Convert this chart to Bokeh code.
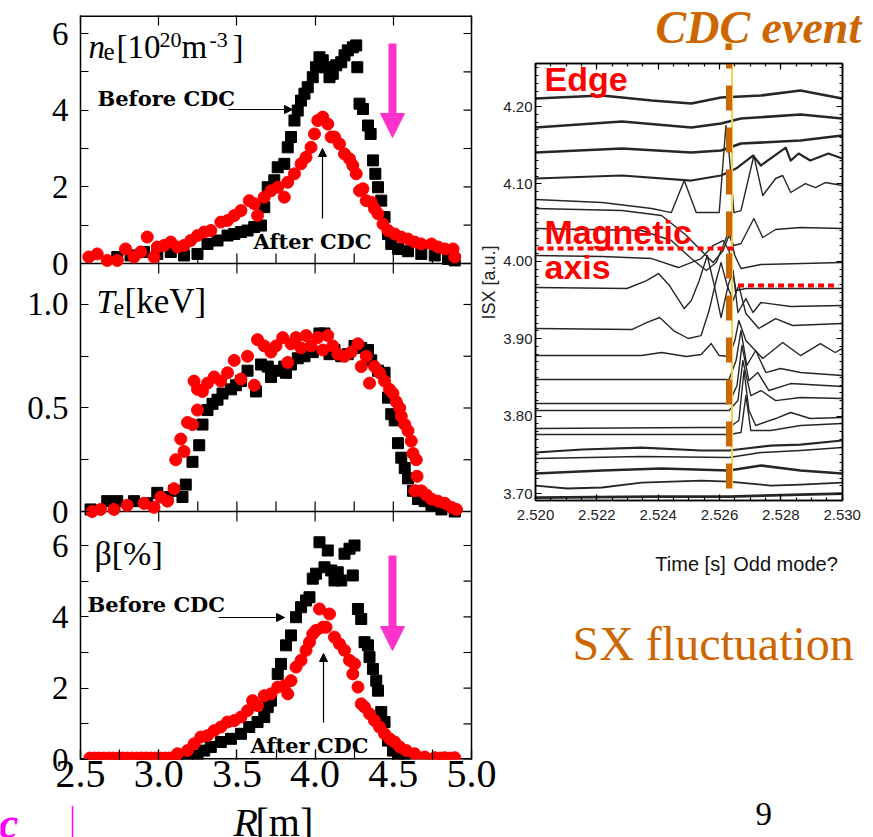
import numpy as np
from bokeh.plotting import figure
from bokeh.layouts import row, column
from bokeh.models import (Range1d, LinearAxis, FixedTicker, SingleIntervalTicker,
                          CustomJSTickFormatter, NumeralTickFormatter, Label, Arrow, NormalHead)
from bokeh.embed import file_html
from bokeh.resources import INLINE

# ------------------------------------------------------------------ data: left panels
R_TICKS = [2.5, 3.0, 3.5, 4.0, 4.5, 5.0]
R_MINOR = [2.75, 3.25, 3.75, 4.25, 4.75]
NE_TICKS = [0, 2, 4, 6]
NE_MINOR = [1, 3, 5]
TE_TICKS = [0.0, 0.5, 1.0]
TE_TICK_LABELS = ["0", "0.5", "1.0"]
TE_MINOR = [0.25, 0.75]
BETA_TICKS = [0, 2, 4, 6]
BETA_MINOR = [1, 3, 5]

NE_BEFORE_R = [2.735, 2.82, 2.906, 2.991, 3.077, 3.162, 3.248, 3.312, 3.376, 3.44, 3.483, 3.526, 3.568,
               3.611, 3.654, 3.675, 3.697, 3.739, 3.761, 3.803, 3.825, 3.846, 3.868, 3.889, 3.91, 3.932,
               3.953, 3.985, 4.006, 4.028, 4.049, 4.07, 4.092, 4.113, 4.135, 4.167, 4.188, 4.209, 4.241,
               4.263, 4.27, 4.284, 4.306, 4.338, 4.355, 4.37, 4.385, 4.402, 4.423, 4.444, 4.466, 4.487,
               4.53, 4.594, 4.679, 4.765, 4.85, 4.893]
NE_BEFORE = [0.17, 0.21, 0.30, 0.25, 0.30, 0.21, 0.25, 0.51, 0.60, 0.73, 0.77, 0.82, 0.86, 0.95, 0.99,
             1.47, 1.99, 2.17, 2.51, 2.60, 3.03, 3.30, 3.73, 3.99, 4.25, 4.43, 4.60, 4.86, 5.12, 5.38,
             5.30, 5.12, 4.86, 4.95, 5.17, 5.25, 5.43, 5.56, 5.64, 5.69, 5.12, 4.17, 4.03, 3.60, 3.38,
             2.69, 2.34, 1.99, 1.64, 1.21, 0.77, 0.51, 0.38, 0.32, 0.25, 0.21, 0.12, 0.08]
NE_AFTER_R = [2.553, 2.607, 2.671, 2.735, 2.788, 2.842, 2.885, 2.927, 2.970, 2.991, 3.034, 3.077, 3.12,
              3.162, 3.205, 3.248, 3.291, 3.333, 3.397, 3.44, 3.483, 3.526, 3.579, 3.611, 3.632, 3.675,
              3.718, 3.761, 3.803, 3.825, 3.868, 3.91, 3.942, 3.974, 3.996, 4.017, 4.049, 4.081, 4.103,
              4.124, 4.156, 4.188, 4.22, 4.241, 4.263, 4.284, 4.306, 4.327, 4.359, 4.38, 4.402, 4.434,
              4.466, 4.509, 4.551, 4.594, 4.637, 4.679, 4.744, 4.786, 4.829, 4.882, 4.893]
NE_AFTER = [0.17, 0.25, 0.08, 0.08, 0.38, 0.17, 0.30, 0.69, 0.17, 0.43, 0.47, 0.56, 0.43, 0.47, 0.60,
            0.73, 0.82, 0.86, 1.08, 1.12, 1.25, 1.38, 1.64, 1.56, 1.25, 1.73, 1.90, 1.99, 1.73, 2.12,
            2.34, 2.60, 2.77, 3.03, 3.38, 3.73, 3.82, 3.64, 3.30, 3.30, 3.12, 2.86, 2.73, 2.56, 2.34,
            1.90, 1.95, 1.64, 1.60, 1.43, 1.30, 1.03, 0.86, 0.77, 0.69, 0.64, 0.56, 0.51, 0.51, 0.43,
            0.38, 0.38, 0.17]

TE_BEFORE_R = [2.564, 2.671, 2.735, 2.842, 2.927, 2.991, 3.056, 3.098, 3.152, 3.173, 3.216, 3.259, 3.28,
               3.312, 3.344, 3.376, 3.408, 3.462, 3.494, 3.526, 3.568, 3.622, 3.654, 3.697, 3.718, 3.75,
               3.803, 3.814, 3.846, 3.889, 3.932, 3.985, 4.028, 4.06, 4.092, 4.124, 4.167, 4.209, 4.252,
               4.295, 4.338, 4.359, 4.402, 4.444, 4.466, 4.487, 4.509, 4.53, 4.551, 4.573, 4.594, 4.626,
               4.658, 4.701, 4.744, 4.808, 4.893]
TE_BEFORE = [0.01, 0.05, 0.05, 0.05, 0.04, 0.09, 0.07, 0.10, 0.07, 0.13, 0.24, 0.32, 0.42, 0.49, 0.52,
             0.54, 0.57, 0.59, 0.61, 0.63, 0.68, 0.58, 0.71, 0.70, 0.65, 0.68, 0.70, 0.67, 0.71, 0.74,
             0.75, 0.77, 0.86, 0.86, 0.76, 0.78, 0.75, 0.76, 0.80, 0.79, 0.78, 0.73, 0.68, 0.67, 0.55,
             0.47, 0.44, 0.33, 0.26, 0.21, 0.16, 0.10, 0.06, 0.05, 0.03, 0.01, 0.00]
TE_AFTER_R = [2.575, 2.628, 2.714, 2.799, 2.906, 2.970, 3.013, 3.056, 3.098, 3.109, 3.141, 3.162, 3.184,
              3.216, 3.248, 3.226, 3.248, 3.28, 3.312, 3.355, 3.397, 3.44, 3.483, 3.526, 3.568, 3.611,
              3.632, 3.675, 3.718, 3.75, 3.793, 3.825, 3.846, 3.878, 3.91, 3.942, 3.974, 4.017, 4.049,
              4.081, 4.113, 4.145, 4.188, 4.231, 4.274, 4.295, 4.327, 4.348, 4.38, 4.412, 4.444, 4.476,
              4.498, 4.519, 4.541, 4.551, 4.573, 4.594, 4.615, 4.626, 4.647, 4.652, 4.637, 4.679, 4.712,
              4.744, 4.786, 4.829, 4.872, 4.904]
TE_AFTER = [0.00, 0.01, 0.01, 0.03, 0.04, 0.02, 0.07, 0.05, 0.11, 0.25, 0.35, 0.29, 0.43, 0.42, 0.49,
            0.63, 0.59, 0.58, 0.62, 0.65, 0.63, 0.67, 0.73, 0.64, 0.75, 0.61, 0.83, 0.80, 0.77, 0.80,
            0.84, 0.72, 0.81, 0.84, 0.79, 0.85, 0.80, 0.84, 0.78, 0.85, 0.80, 0.76, 0.75, 0.77, 0.81,
            0.70, 0.75, 0.62, 0.70, 0.67, 0.63, 0.59, 0.57, 0.53, 0.50, 0.46, 0.42, 0.39, 0.34, 0.28,
            0.25, 0.17, 0.10, 0.10, 0.08, 0.06, 0.05, 0.04, 0.02, 0.01]

BETA_BEFORE_R = [2.60, 2.75, 2.90, 3.05, 3.12, 3.184, 3.248, 3.291, 3.333, 3.397, 3.462, 3.526, 3.579,
                 3.632, 3.675, 3.697, 3.718, 3.761, 3.782, 3.814, 3.846, 3.878, 3.91, 3.942, 3.964,
                 3.985, 4.006, 4.028, 4.06, 4.081, 4.103, 4.124, 4.145, 4.167, 4.188, 4.22, 4.252,
                 4.241, 4.274, 4.295, 4.316, 4.338, 4.348, 4.37, 4.391, 4.402, 4.423, 4.444, 4.466,
                 4.498, 4.53, 4.573]
BETA_BEFORE = [0.02, 0.02, 0.02, 0.03, 0.04, 0.05, 0.11, 0.25, 0.35, 0.49, 0.58, 0.72, 0.91, 1.05, 1.19,
               1.47, 1.65, 2.40, 2.68, 3.20, 3.48, 3.99, 4.27, 4.46, 4.55, 5.07, 5.21, 6.09, 5.39, 5.86,
               5.30, 5.02, 5.25, 5.02, 5.77, 5.91, 6.00, 5.16, 4.22, 3.94, 3.29, 3.20, 2.87, 2.54, 2.21,
               1.93, 1.33, 1.05, 0.53, 0.25, 0.11, 0.05]
BETA_AFTER_R = [2.56, 2.59, 2.62, 2.65, 2.68, 2.71, 2.74, 2.77, 2.80, 2.83, 2.86, 2.89, 2.92, 2.95, 2.98,
                3.01, 3.04, 3.07, 3.10, 3.12, 3.184, 3.226, 3.269, 3.312, 3.355, 3.397, 3.44, 3.483,
                3.526, 3.568, 3.60, 3.632, 3.675, 3.718, 3.761, 3.803, 3.825, 3.846, 3.878, 3.91, 3.942,
                3.964, 3.985, 4.006, 4.028, 4.049, 4.07, 4.092, 4.124, 4.156, 4.188, 4.22, 4.252, 4.241,
                4.274, 4.295, 4.316, 4.348, 4.38, 4.412, 4.444, 4.476, 4.509, 4.541, 4.583, 4.637,
                4.701, 4.765, 4.80, 4.829, 4.86, 4.893]
BETA_AFTER = [0.04, 0.04, 0.04, 0.04, 0.04, 0.04, 0.04, 0.04, 0.04, 0.04, 0.04, 0.04, 0.04, 0.04, 0.04,
              0.04, 0.04, 0.04, 0.04, 0.16, 0.25, 0.44, 0.63, 0.67, 0.81, 0.91, 1.05, 1.09, 1.19, 1.37,
              1.65, 1.51, 1.79, 1.84, 2.03, 2.07, 1.84, 2.21, 2.59, 2.78, 3.06, 3.29, 3.52, 3.62, 4.22,
              3.71, 3.71, 4.08, 3.43, 3.24, 3.06, 2.78, 2.68, 2.40, 2.03, 1.56, 1.47, 1.28, 1.09, 0.91,
              0.72, 0.58, 0.49, 0.35, 0.25, 0.16, 0.07, 0.05, 0.04, 0.05, 0.04, 0.05]

# ------------------------------------------------------------------ data: SX signals (right)
SX01_T = [2.52000, 2.52217, 2.52379, 2.52508, 2.52605, 2.52735, 2.52864, 2.53000]
SX01_V = [4.2103, 4.2142, 4.2078, 4.2039, 4.2116, 4.2142, 4.2207, 4.2103]
SX02_T = [2.52000, 2.52282, 2.52508, 2.52605, 2.52670, 2.52864, 2.53000]
SX02_V = [4.1729, 4.1806, 4.1729, 4.1780, 4.1845, 4.1897, 4.1845]
SX03_T = [2.52000, 2.52282, 2.52508, 2.52605, 2.52670, 2.52864, 2.53000]
SX03_V = [4.1406, 4.1457, 4.1406, 4.1432, 4.1522, 4.1561, 4.1625]
SX04_T = [2.52000, 2.52282, 2.52508, 2.52605, 2.52654, 2.52709, 2.52735, 2.52816, 2.52832, 2.52858,
          2.52896, 2.52955, 2.53000]
SX04_V = [4.1070, 4.1109, 4.1044, 4.1109, 4.1199, 4.1367, 4.1238, 4.1470, 4.1302, 4.1393, 4.1302,
          4.1393, 4.1328]
SX05_T = [2.52000, 2.52217, 2.52379, 2.52443, 2.52485, 2.52524, 2.52599, 2.52612, 2.52621, 2.52631,
          2.52647, 2.52670, 2.52712, 2.52741, 2.52783, 2.52806, 2.52832, 2.52880, 2.52913, 2.52945, 2.53000]
SX05_V = [4.0798, 4.0760, 4.0682, 4.0630, 4.1044, 4.0630, 4.0630, 4.1302, 4.1755, 4.1406, 4.0630,
          4.0656, 4.1367, 4.0850, 4.1070, 4.1109, 4.0889, 4.1005, 4.0953, 4.1018, 4.0979]
SX06_T = [2.52000, 2.52282, 2.52411, 2.52492, 2.52540, 2.52579, 2.52612, 2.52631, 2.52647, 2.52670,
          2.52712, 2.52741, 2.52783, 2.52864, 2.53000]
SX06_V = [4.0682, 4.0656, 4.0592, 4.0333, 4.0140, 3.9984, 4.0140, 4.0333, 4.0204, 4.0230, 4.0553,
          4.0308, 4.0411, 4.0437, 4.0424]
SX07_T = [2.52000, 2.52346, 2.52443, 2.52508, 2.52557, 2.52589, 2.52612, 2.52631, 2.52650, 2.52670,
          2.52735, 2.53000]
SX07_V = [4.0424, 4.0398, 4.0269, 4.0036, 3.9881, 3.9984, 4.0204, 4.0398, 4.0075, 3.9907, 3.9959, 3.9984]
SX08_T = [2.52000, 2.52217, 2.52379, 2.52466, 2.52540, 2.52579, 2.52612, 2.52631, 2.52654, 2.52686, 2.53000]
SX08_V = [4.0075, 4.0062, 4.0036, 3.9920, 4.0036, 4.0204, 4.0269, 4.0140, 3.9623, 3.9649, 3.9649]
SX09_T = [2.52000, 2.52298, 2.52362, 2.52401, 2.52437, 2.52485, 2.52508, 2.52534, 2.52560, 2.52583,
          2.52605, 2.52628, 2.52644, 2.52660, 2.52686, 2.52709, 2.52735, 2.52832, 2.53000]
SX09_V = [3.9661, 3.9649, 3.9752, 3.9842, 3.9687, 3.9390, 3.9494, 3.9752, 4.0075, 3.9687, 3.9274,
          3.9687, 3.9881, 3.9339, 3.9519, 3.9339, 3.9468, 3.9416, 3.9429]
SX10_T = [2.52000, 2.52314, 2.52362, 2.52405, 2.52450, 2.52498, 2.52540, 2.52566, 2.52589, 2.52605,
          2.52625, 2.52644, 2.52663, 2.52686, 2.52728, 2.52783, 2.52838, 2.53000]
SX10_V = [3.9132, 3.9119, 3.9209, 3.9274, 3.9106, 3.9003, 3.9041, 3.9364, 3.9752, 3.9984, 3.9687,
          3.9494, 3.9687, 3.9326, 3.9132, 3.9261, 3.9171, 3.9196]
SX11_T = [2.52000, 2.52346, 2.52411, 2.52492, 2.52540, 2.52573, 2.52599, 2.52631, 2.52650, 2.52663,
          2.52686, 2.52741, 2.52806, 2.52864, 2.52929, 2.52977, 2.53000]
SX11_V = [3.8783, 3.8783, 3.8822, 3.8770, 3.8796, 3.8938, 3.8783, 3.8770, 3.8977, 3.9235, 3.8977,
          3.8744, 3.8951, 3.8783, 3.8938, 3.8822, 3.8873]
SX12_T = [2.52000, 2.52631, 2.52654, 2.52670, 2.52689, 2.52718, 2.52751, 2.52799, 2.52864, 2.53000]
SX12_V = [3.8473, 3.8473, 3.8718, 3.9106, 3.8654, 3.8848, 3.8563, 3.8615, 3.8563, 3.8525]
SX13_T = [2.52000, 2.52631, 2.52657, 2.52673, 2.52696, 2.52725, 2.52761, 2.52832, 2.53000]
SX13_V = [3.8163, 3.8163, 3.8395, 3.8912, 3.8460, 3.8563, 3.8331, 3.8421, 3.8382]
SX14_T = [2.52000, 2.52631, 2.52660, 2.52676, 2.52702, 2.52735, 2.52783, 2.52864, 2.53000]
SX14_V = [3.8072, 3.8072, 3.8201, 3.8718, 3.8266, 3.8331, 3.8201, 3.8240, 3.8227]
SX15_T = [2.52000, 2.52540, 2.52631, 2.52663, 2.52680, 2.52696, 2.52718, 2.52783, 2.52832, 2.52896, 2.53000]
SX15_V = [3.7840, 3.7853, 3.7853, 3.7943, 3.8589, 3.8072, 3.7879, 3.7969, 3.8047, 3.7969, 3.7982]
SX16_T = [2.52000, 2.52631, 2.52670, 2.52686, 2.52702, 2.52767, 2.52864, 2.53000]
SX16_V = [3.7762, 3.7762, 3.7788, 3.8266, 3.7814, 3.7814, 3.7879, 3.7904]
SX17_T = [2.52000, 2.52152, 2.52346, 2.52540, 2.52631, 2.52686, 2.52767, 2.52864, 2.53000]
SX17_V = [3.7530, 3.7569, 3.7594, 3.7556, 3.7556, 3.7582, 3.7620, 3.7633, 3.7685]
SX18_T = [2.52000, 2.52346, 2.52631, 2.52735, 2.52864, 2.53000]
SX18_V = [3.7452, 3.7478, 3.7465, 3.7530, 3.7556, 3.7594]
SX19_T = [2.52000, 2.52217, 2.52411, 2.52631, 2.52735, 2.52864, 2.53000]
SX19_V = [3.7258, 3.7297, 3.7323, 3.7297, 3.7362, 3.7297, 3.7258]
SX20_T = [2.52000, 2.52104, 2.52217, 2.52346, 2.52540, 2.52631, 2.52767, 2.52864, 2.53000]
SX20_V = [3.7103, 3.7065, 3.7078, 3.7142, 3.7168, 3.7155, 3.7103, 3.7116, 3.7142]
SX21_T = [2.52000, 2.52379, 2.52631, 2.52864, 2.53000]
SX21_V = [3.6948, 3.6960, 3.6960, 3.6986, 3.7000]

CDC_T = 2.52631
MAG_AXIS_BEFORE = 4.0165
MAG_AXIS_AFTER = 3.9687

# ------------------------------------------------------------------ styling helpers
FONT_SERIF = "Liberation Serif"
FONT_SANS = "Liberation Sans"
FONT_BOLD_SERIF = "DejaVu Serif"
PINK = "#FF33CC"
ORANGE = "#CC6600"
MAGENTA = "#FF00FF"
MID = 0.34  # distance from a text's vertical middle to its baseline, in font sizes

NE_RANGE = (-12.94, 6.47)
TE_RANGE = (-1.198, 2.396)
BETA_RANGE = (0.0, 20.86)

BLANK = CustomJSTickFormatter(code="return '';")


def to_main(v, rng):
    return NE_RANGE[0] + (v - rng[0]) / (rng[1] - rng[0]) * (NE_RANGE[1] - NE_RANGE[0])


# left figure geometry (frame extends to the canvas' right edge; the drawn box ends at R=5.0)
L_W, L_H = 500, 805
L_LEFT, L_TOP, L_BOTTOM = 80, 15, 46
BOX_RIGHT_PX = 471
PX_PER_R = (BOX_RIGHT_PX - L_LEFT) / (R_TICKS[-1] - R_TICKS[0])
X_END = R_TICKS[0] + (L_W - L_LEFT) / PX_PER_R
L_FH = L_H - L_TOP - L_BOTTOM


def lx(px):
    return R_TICKS[0] + (px - L_LEFT) / PX_PER_R


def ly(py):
    return NE_RANGE[1] - (py - L_TOP) / L_FH * (NE_RANGE[1] - NE_RANGE[0])


def tick_style(**kw):
    d = dict(major_tick_out=0, minor_tick_out=0, axis_line_width=1.5, axis_line_color="black",
             major_tick_line_width=1.2, minor_tick_line_width=1.2,
             major_tick_line_color="black", minor_tick_line_color="black")
    d.update(kw)
    return d


# ------------------------------------------------------------------ left figure
left = figure(width=L_W, height=L_H, x_range=Range1d(R_TICKS[0], X_END),
              y_range=Range1d(*NE_RANGE), output_backend="svg", toolbar_location=None,
              min_border_left=L_LEFT, min_border_right=0, min_border_top=L_TOP,
              min_border_bottom=L_BOTTOM, x_axis_location=None, y_axis_location=None,
              frame_align=False)
left.extra_y_ranges = {"te": Range1d(*TE_RANGE), "beta": Range1d(*BETA_RANGE)}
left.grid.visible = False
left.outline_line_color = None
left.background_fill_color = "white"
left.border_fill_color = "white"

xb = LinearAxis(ticker=SingleIntervalTicker(interval=0.5, num_minor_ticks=2),
                formatter=NumeralTickFormatter(format="0.0"),
                **tick_style(major_tick_in=10, minor_tick_in=10, axis_line_color=None,
                             major_label_text_font=FONT_SERIF, major_label_text_font_size="40px",
                             major_label_standoff=1, major_label_text_color="black"))
left.add_layout(xb, "below")
xt = LinearAxis(ticker=SingleIntervalTicker(interval=0.5, num_minor_ticks=2), formatter=BLANK,
                **tick_style(major_tick_in=10, minor_tick_in=0, minor_tick_line_color=None,
                             axis_line_color=None, major_label_standoff=0,
                             major_label_text_font_size="1px"))
left.add_layout(xt, "above")

y_major = ([to_main(v, NE_RANGE) for v in NE_TICKS] + [to_main(v, TE_RANGE) for v in TE_TICKS]
           + [to_main(v, BETA_RANGE) for v in BETA_TICKS])
y_labels = [str(v) for v in NE_TICKS] + TE_TICK_LABELS + [str(v) for v in BETA_TICKS]
y_minor = ([to_main(v, NE_RANGE) for v in NE_MINOR] + [to_main(v, TE_RANGE) for v in TE_MINOR]
           + [to_main(v, BETA_RANGE) for v in BETA_MINOR])
y_fmt = CustomJSTickFormatter(args=dict(pos=y_major, lab=y_labels), code="""
for (let i = 0; i < pos.length; i++) {
  if (Math.abs(tick - pos[i]) < 1e-6) { return lab[i]; }
}
return "";
""")
yl = LinearAxis(ticker=FixedTicker(ticks=y_major, minor_ticks=y_minor), formatter=y_fmt,
                **tick_style(major_tick_in=8, minor_tick_in=8, major_label_text_font=FONT_SERIF,
                             major_label_text_font_size="33px", major_label_standoff=12,
                             major_label_text_color="black"))
left.add_layout(yl, "left")

# box edges (top, bottom, right) and the two panel boundaries
x_lo, x_hi = R_TICKS[0], R_TICKS[-1]
left.segment(x0=[x_lo, x_lo], y0=[NE_RANGE[1], NE_RANGE[0]], x1=[x_hi, x_hi],
             y1=[NE_RANGE[1], NE_RANGE[0]], line_color="black", line_width=3)
left.segment(x0=[x_hi], y0=[NE_RANGE[0]], x1=[x_hi], y1=[NE_RANGE[1]], line_color="black",
             line_width=1.5)
left.segment(x0=[x_lo], y0=[0], x1=[x_hi], y1=[0], line_color="black", line_width=1.5)
left.segment(x0=[x_lo], y0=[0], x1=[x_hi], y1=[0], line_color="black", line_width=1.5,
             y_range_name="te")
# ticks on the right edge (mirror of the left axis)
right_ticks = y_major + y_minor
left.ray(x=[x_hi] * len(right_ticks), y=right_ticks, length=8, length_units="screen", angle=np.pi,
         line_color="black", line_width=1.2)
# ticks along the panel boundaries
up_x = sorted(R_TICKS[1:-1] + R_MINOR)
down_x = R_TICKS[1:-1]
for rname in ["default", "te"]:
    left.ray(x=up_x, y=[0] * len(up_x), length=10, length_units="screen", angle=np.pi / 2,
             line_color="black", line_width=1.2, y_range_name=rname)
    left.ray(x=down_x, y=[0] * len(down_x), length=10, length_units="screen", angle=-np.pi / 2,
             line_color="black", line_width=1.2, y_range_name=rname)

# data points
for xs, ys, rn in [(NE_BEFORE_R, NE_BEFORE, "default"), (TE_BEFORE_R, TE_BEFORE, "te"),
                   (BETA_BEFORE_R, BETA_BEFORE, "beta")]:
    left.scatter(xs, ys, marker="square", size=11, color="black", y_range_name=rn)
for xs, ys, rn in [(NE_AFTER_R, NE_AFTER, "default"), (TE_AFTER_R, TE_AFTER, "te"),
                   (BETA_AFTER_R, BETA_AFTER, "beta")]:
    left.scatter(xs, ys, marker="circle", size=12, color="#FF0000", y_range_name=rn)


# texts inside a frame, placed in screen units relative to that frame's bottom-left corner;
# py is the wanted baseline (pixels from the top of the page)
def add_text(fig, frame, px, py, text, size, font=FONT_SERIF, style="normal", color="black",
             align="left", centred=False, angle=0.0):
    fl, fb = frame
    mid = py if centred else py - MID * size
    fig.add_layout(Label(x=px - fl, y=fb - mid, x_units="screen", y_units="screen", text=text,
                         text_font=font, text_font_size=f"{size}px", text_font_style=style,
                         text_color=color, text_align=align, text_baseline="middle", angle=angle))


LF = (L_LEFT, L_TOP + L_FH)
add_text(left, LF, 88, 58, "n", 33, style="italic")
add_text(left, LF, 103, 59, "e", 25)
add_text(left, LF, 116, 58, "[10", 33)
add_text(left, LF, 159, 47, "20", 22)
add_text(left, LF, 181, 58, "m", 33)
add_text(left, LF, 209, 47, "-3", 22)
add_text(left, LF, 232, 58, "]", 33)
add_text(left, LF, 96, 313, "T", 33, style="italic")
add_text(left, LF, 113, 315, "e", 24)
add_text(left, LF, 124, 313, "[keV]", 35)
add_text(left, LF, 94, 565, "\u03b2[%]", 34)
add_text(left, LF, 97, 105, "Before CDC", 21, font=FONT_BOLD_SERIF, style="bold")
add_text(left, LF, 253, 248, "After CDC", 21, font=FONT_BOLD_SERIF, style="bold")
add_text(left, LF, 87, 611, "Before CDC", 21, font=FONT_BOLD_SERIF, style="bold")
add_text(left, LF, 250, 752, "After CDC", 21, font=FONT_BOLD_SERIF, style="bold")
# y label of the SX picture (sits in the gap between the two pictures)
add_text(left, LF, 488, 282, "ISX [a.u.]", 18, font=FONT_SANS, color="#222222", align="center",
         centred=True, angle=np.pi / 2)


def add_arrow(fig, p0, p1, color, width, head):
    fig.add_layout(Arrow(end=NormalHead(size=head, fill_color=color, line_color=color, line_width=1),
                         x_start=lx(p0[0]), y_start=ly(p0[1]), x_end=lx(p1[0]), y_end=ly(p1[1]),
                         line_color=color, line_width=width))


add_arrow(left, (228, 109), (292, 109), "black", 1.2, 8)
add_arrow(left, (322, 218), (322, 148), "black", 1.2, 8)
add_arrow(left, (218, 617), (284, 617), "black", 1.2, 8)
add_arrow(left, (323, 722), (323, 653), "black", 1.2, 8)
add_arrow(left, (392, 43), (392, 137), PINK, 8, 24)
add_arrow(left, (392, 555), (392, 650), PINK, 8, 24)


# ------------------------------------------------------------------ plain text strips
def text_fig(w, h):
    f = figure(width=w, height=h, x_range=Range1d(0, w), y_range=Range1d(h, 0),
               output_backend="svg", toolbar_location=None, min_border=0,
               x_axis_location=None, y_axis_location=None, frame_align=False)
    f.grid.visible = False
    f.outline_line_color = None
    return f


def strip_text(fig, origin, px, py, text, size, font=FONT_SERIF, style="normal", color="black",
               align="left"):
    fig.add_layout(Label(x=px - origin[0], y=py - MID * size - origin[1], text=text, text_font=font,
                         text_font_size=f"{size}px", text_font_style=style, text_color=color,
                         text_align=align, text_baseline="middle"))


LT_ORIGIN = (0, L_H)
left_text = text_fig(L_W, 837 - L_H)
strip_text(left_text, LT_ORIGIN, 233, 836, "R", 40, style="italic")
strip_text(left_text, LT_ORIGIN, 255, 836, "[m]", 40)
strip_text(left_text, LT_ORIGIN, -14, 838, "ic", 44, style="bold italic", color=MAGENTA)
left_text.segment(x0=[72], y0=[0], x1=[72], y1=[837 - L_H], line_color=MAGENTA, line_width=1.5)

# ------------------------------------------------------------------ right figure
R_W = 373
R_X0 = L_W
TOP_H = 50
R_H = 490
R_LEFT, R_RIGHT, R_TOP, R_BOTTOM = 33, 31, 13, 40
T_RANGE = (2.520, 2.530)
V_RANGE = (3.691, 4.2556)
R_FW = R_W - R_LEFT - R_RIGHT
R_FH = R_H - R_TOP - R_BOTTOM
RF = (R_X0 + R_LEFT, TOP_H + R_TOP + R_FH)


def rx(px):
    return T_RANGE[0] + (px - RF[0]) / R_FW * (T_RANGE[1] - T_RANGE[0])


def ry(py):
    return V_RANGE[1] - (py - (TOP_H + R_TOP)) / R_FH * (V_RANGE[1] - V_RANGE[0])


right = figure(width=R_W, height=R_H, x_range=Range1d(T_RANGE[0], T_RANGE[1] + 0.00001),
               y_range=Range1d(*V_RANGE),
               output_backend="svg", toolbar_location=None, min_border_left=R_LEFT,
               min_border_right=R_RIGHT, min_border_top=R_TOP, min_border_bottom=R_BOTTOM,
               x_axis_location=None, y_axis_location=None, frame_align=False)
right.grid.visible = False
right.outline_line_color = "black"
right.outline_line_width = 1.5
right.border_fill_color = "white"

rb = LinearAxis(ticker=SingleIntervalTicker(interval=0.002, num_minor_ticks=4),
                formatter=NumeralTickFormatter(format="0.000"),
                **tick_style(major_tick_in=6, minor_tick_in=3, major_label_text_font=FONT_SANS,
                             major_label_text_font_size="15px", major_label_standoff=9,
                             major_label_text_color="#222222"))
right.add_layout(rb, "below")
rt = LinearAxis(ticker=SingleIntervalTicker(interval=0.002, num_minor_ticks=4), formatter=BLANK,
                **tick_style(major_tick_in=6, minor_tick_in=3, major_label_standoff=0,
                             major_label_text_font_size="1px"))
right.add_layout(rt, "above")
rl = LinearAxis(ticker=SingleIntervalTicker(interval=0.1, num_minor_ticks=10),
                formatter=NumeralTickFormatter(format="0.00"),
                **tick_style(major_tick_in=6, minor_tick_in=3, major_label_text_font=FONT_SANS,
                             major_label_text_font_size="15px", major_label_standoff=3,
                             major_label_text_color="#222222"))
right.add_layout(rl, "left")
rr = LinearAxis(ticker=SingleIntervalTicker(interval=0.1, num_minor_ticks=10), formatter=BLANK,
                **tick_style(major_tick_in=6, minor_tick_in=3, major_label_standoff=0,
                             major_label_text_font_size="1px"))
right.add_layout(rr, "right")

traces = [(SX01_T, SX01_V, 2.6), (SX02_T, SX02_V, 2.6), (SX03_T, SX03_V, 2.6), (SX04_T, SX04_V, 2.2),
          (SX05_T, SX05_V, 1.4), (SX06_T, SX06_V, 1.4), (SX07_T, SX07_V, 1.4), (SX08_T, SX08_V, 1.4),
          (SX09_T, SX09_V, 1.4), (SX10_T, SX10_V, 1.4), (SX11_T, SX11_V, 1.4), (SX12_T, SX12_V, 1.4),
          (SX13_T, SX13_V, 1.4), (SX14_T, SX14_V, 1.4), (SX15_T, SX15_V, 1.4), (SX16_T, SX16_V, 1.4),
          (SX17_T, SX17_V, 2.2), (SX18_T, SX18_V, 1.6), (SX19_T, SX19_V, 2.6), (SX20_T, SX20_V, 1.8),
          (SX21_T, SX21_V, 2.8)]
for ts, vs, w in traces:
    right.line(ts, vs, line_color="#262626", line_width=w, line_join="round")

# CDC markers
right.segment(x0=[CDC_T + 0.0001], y0=[ry(43)], x1=[CDC_T + 0.0001], y1=[ry(488)],
              line_color="#F5D04A", line_width=2)
right.segment(x0=[CDC_T], y0=[ry(43)], x1=[CDC_T], y1=[ry(488)], line_color=ORANGE, line_width=6,
              line_dash="25 17")
right.segment(x0=[rx(525)], y0=[MAG_AXIS_BEFORE], x1=[rx(733)], y1=[MAG_AXIS_BEFORE],
              line_color="#FF0000", line_width=4, line_dash="6 4")
right.segment(x0=[rx(737)], y0=[MAG_AXIS_AFTER], x1=[rx(838)], y1=[MAG_AXIS_AFTER],
              line_color="#FF0000", line_width=4, line_dash="6 4")

add_text(right, RF, 542, 90, "Edge", 34, font=FONT_SANS, style="bold", color="#FF0000")
add_text(right, RF, 542, 243, "Magnetic", 34, font=FONT_SANS, style="bold", color="#FF0000")
add_text(right, RF, 542, 278, "axis", 34, font=FONT_SANS, style="bold", color="#FF0000")

top_text = text_fig(R_W, TOP_H)
TT_ORIGIN = (R_X0, 0)
strip_text(top_text, TT_ORIGIN, 655, 43, "CDC event", 46, style="bold italic", color=ORANGE)
# upper end of the CDC marker, above the SX frame
cdc_px = RF[0] + (CDC_T - T_RANGE[0]) / (T_RANGE[1] - T_RANGE[0]) * R_FW
top_text.segment(x0=[cdc_px + 3 - R_X0], y0=[43], x1=[cdc_px + 3 - R_X0], y1=[TOP_H],
                 line_color="#F5D04A", line_width=2)
top_text.segment(x0=[cdc_px - R_X0], y0=[43], x1=[cdc_px - R_X0], y1=[TOP_H],
                 line_color=ORANGE, line_width=6)

BT_ORIGIN = (R_X0, TOP_H + R_H)
bottom_text = text_fig(R_W, 837 - TOP_H - R_H)
strip_text(bottom_text, BT_ORIGIN, 690, 570, "Time [s]", 20, font=FONT_SANS, color="#111111",
           align="center")
strip_text(bottom_text, BT_ORIGIN, 785, 570, "Odd mode?", 20, font=FONT_SANS, color="#111111",
           align="center")
strip_text(bottom_text, BT_ORIGIN, 572, 659, "SX fluctuation", 48, color=ORANGE)
strip_text(bottom_text, BT_ORIGIN, 755, 825, "9", 33)

layout = row(column(left, left_text), column(top_text, right, bottom_text))
open("out.html", "w").write(file_html(layout, INLINE))
